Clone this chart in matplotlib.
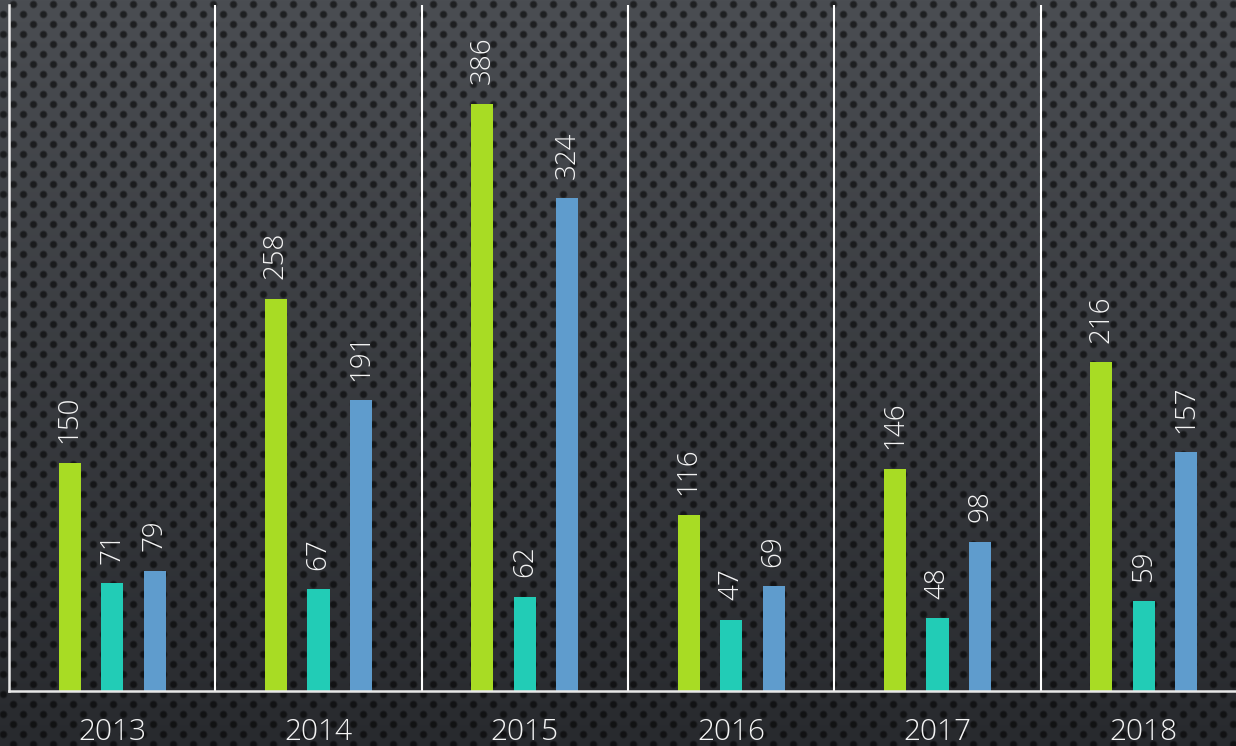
import matplotlib
matplotlib.use("Agg")
import matplotlib.pyplot as plt
import numpy as np

YEARS = ["2013", "2014", "2015", "2016", "2017", "2018"]
SERIES_A = [150, 258, 386, 116, 146, 216]
SERIES_B = [71, 67, 62, 47, 48, 59]
SERIES_C = [79, 191, 324, 69, 98, 157]
COLORS = ["#a8dc24", "#22ccb6", "#5f9ccd"]

W, H = 1236, 746
plt.rcParams["font.family"] = ["Open Sans", "DejaVu Sans"]


def background() -> np.ndarray:
    yy, xx = np.mgrid[0:H, 0:W].astype(float)
    # vertical gradient, lighter at top
    t = yy / H
    base = np.array([74, 77, 82])[None, None, :] * (1 - t[..., None]) + \
        np.array([40, 42, 46])[None, None, :] * t[..., None]
    # staggered dot lattice
    def dist(x0, y0):
        dx = (xx - x0 + 10) % 20 - 10
        dy = (yy - y0 + 10) % 20 - 10
        return np.hypot(dx, dy)
    d = np.minimum(dist(13, 4), dist(3, 14))
    dot = np.clip((4.5 - d) / 2.0, 0, 1)[..., None]
    dot_col = base * 0.42
    img = base * (1 - dot) + dot_col * dot
    return np.clip(img / 255.0, 0, 1)


fig = plt.figure(figsize=(W / 100, H / 100), dpi=100)
bg = fig.add_axes([0, 0, 1, 1])
bg.imshow(background(), aspect="auto", interpolation="nearest")
bg.axis("off")

ax = fig.add_axes([9 / W, 55 / H, 1238 / W, 686 / H])
ax.patch.set_alpha(0)
x = np.arange(len(YEARS))
width = 0.107
offset = 0.206
for i, (vals, col) in enumerate(zip([SERIES_A, SERIES_B, SERIES_C], COLORS)):
    pos = x + (i - 1) * offset
    ax.bar(pos, vals, width=width, color=col, zorder=2)
    for px, v in zip(pos, vals):
        ax.annotate(str(v), (px, v), xytext=(0, 14), textcoords="offset points",
                    rotation=90, ha="center", va="bottom", color="#f4f4f4",
                    fontsize=20, fontweight="light")

ax.set_xlim(-0.5, len(YEARS) - 0.5)
ax.set_ylim(0, 451)
for sep in x[:-1] + 0.5:
    ax.axvline(sep, color="white", lw=1.5, zorder=1)
for side in ["top", "right"]:
    ax.spines[side].set_visible(False)
for side in ["left", "bottom"]:
    ax.spines[side].set_color("#e8e8e8")
    ax.spines[side].set_linewidth(1.8)
ax.set_yticks([])
ax.set_xticks(x)
ax.set_xticklabels(YEARS, color="#f4f4f4", fontsize=21.5, fontweight="light")
ax.tick_params(axis="x", length=0, pad=19)

fig.savefig("out.png", dpi=100)
